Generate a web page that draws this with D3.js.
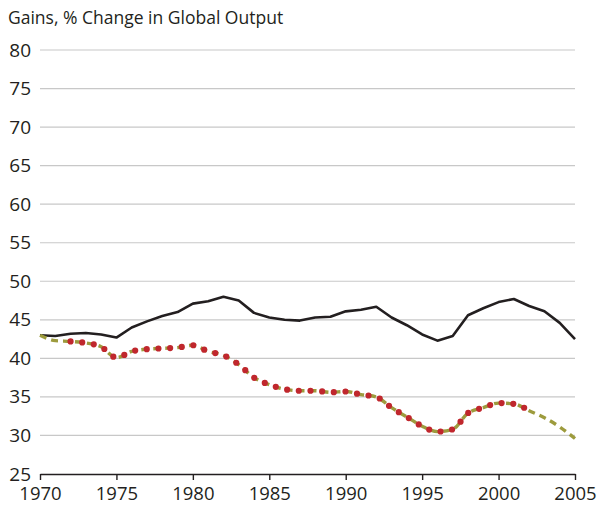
<!DOCTYPE html>
<html>
<head>
<meta charset="utf-8">
<script src="https://cdn.jsdelivr.net/npm/d3@7"></script>
<style>
  body { margin: 0; background: #fff; }
  text { font-family: "Open Sans", "Noto Sans", sans-serif; fill: #231f20; }
</style>
</head>
<body>
<div id="chart"></div>
<script>
var years = d3.range(1970, 2006);
var blackSeries = [43.0, 42.9, 43.2, 43.3, 43.1, 42.7, 44.0, 44.8, 45.5, 46.0,
    47.1, 47.4, 48.0, 47.5, 45.9, 45.3, 45.0, 44.9, 45.3, 45.4,
    46.1, 46.3, 46.7, 45.3, 44.3, 43.1, 42.3, 42.9, 45.6, 46.5,
    47.3, 47.7, 46.8, 46.1, 44.6, 42.5];
var dashedSeries = [43.0, 42.3, 42.2, 42.0, 41.5, 40.1, 40.9, 41.2, 41.3, 41.4,
    41.7, 40.9, 40.4, 39.2, 37.5, 36.6, 36.0, 35.8, 35.8, 35.6,
    35.7, 35.3, 35.0, 33.6, 32.4, 31.2, 30.5, 30.8, 32.9, 33.6,
    34.2, 34.1, 33.2, 32.3, 31.1, 29.6];
var dotYears = d3.range(1972, 2003);
var dottedSeries = [42.2, 42.0, 41.5, 40.1, 40.9, 41.2, 41.3, 41.4,
    41.7, 40.9, 40.4, 39.2, 37.5, 36.6, 36.0, 35.8, 35.8, 35.6,
    35.7, 35.3, 35.0, 33.6, 32.4, 31.2, 30.5, 30.8, 32.9, 33.6,
    34.2, 34.1, 33.2];
var yTicks = [25, 30, 35, 40, 45, 50, 55, 60, 65, 70, 75, 80];
var xTicks = [1970, 1975, 1980, 1985, 1990, 1995, 2000, 2005];

var width = 600, height = 506;
var svg = d3.select("#chart").append("svg")
    .attr("width", width)
    .attr("height", height);

var x = d3.scaleLinear().domain([1970, 2005]).range([40, 575]);
var y = d3.scaleLinear().domain([25, 80]).range([474, 50]);

// title
svg.append("text")
    .attr("x", 8)
    .attr("y", 24)
    .style("font-size", "17.5px")
    .text("Gains, % Change in Global Output");

// gridlines
svg.append("g")
    .selectAll("line")
    .data(yTicks.filter(d => d > 25))
    .enter()
    .append("line")
    .attr("x1", x(1970))
    .attr("x2", x(2005))
    .attr("y1", d => y(d))
    .attr("y2", d => y(d))
    .attr("stroke", "#c8c8c8")
    .attr("stroke-width", 1.2);

// y labels
svg.append("g")
    .selectAll("text")
    .data(yTicks)
    .enter()
    .append("text")
    .attr("x", 31)
    .attr("y", d => y(d) + 6.5)
    .attr("text-anchor", "end")
    .style("font-size", "19px")
    .text(d => d);

// x axis
var xAxis = svg.append("g")
    .attr("transform", "translate(0," + y(25) + ")")
    .call(d3.axisBottom(x).tickValues(xTicks).tickFormat(d3.format("d")).tickSize(6).tickSizeOuter(0));
xAxis.select(".domain").attr("stroke", "#231f20").attr("stroke-width", 1.6);
xAxis.selectAll(".tick line").attr("stroke", "#231f20").attr("stroke-width", 1.4);
xAxis.selectAll(".tick text")
    .attr("dy", null)
    .attr("y", 26)
    .style("font-size", "18.5px")
    .style("font-family", "\"Open Sans\", \"Noto Sans\", sans-serif")
    .attr("fill", "#231f20");

var line = d3.line()
    .x(d => x(d[0]))
    .y(d => y(d[1]))
    .curve(d3.curveMonotoneX);

svg.append("path")
    .datum(d3.zip(years, blackSeries))
    .attr("d", d3.line().x(d => x(d[0])).y(d => y(d[1])))
    .attr("fill", "none")
    .attr("stroke", "#231f20")
    .attr("stroke-width", 2.6)
    .attr("stroke-linejoin", "round");

svg.append("path")
    .datum(d3.zip(years, dashedSeries))
    .attr("d", line)
    .attr("fill", "none")
    .attr("stroke", "#9d9b3d")
    .attr("stroke-width", 3.4)
    .attr("stroke-dasharray", "7,5");

svg.append("path")
    .datum(d3.zip(dotYears, dottedSeries))
    .attr("d", line)
    .attr("fill", "none")
    .attr("stroke", "#c0272d")
    .attr("stroke-width", 6.2)
    .attr("stroke-linecap", "round")
    .attr("stroke-dasharray", "0,11.7");
</script>
</body>
</html>
